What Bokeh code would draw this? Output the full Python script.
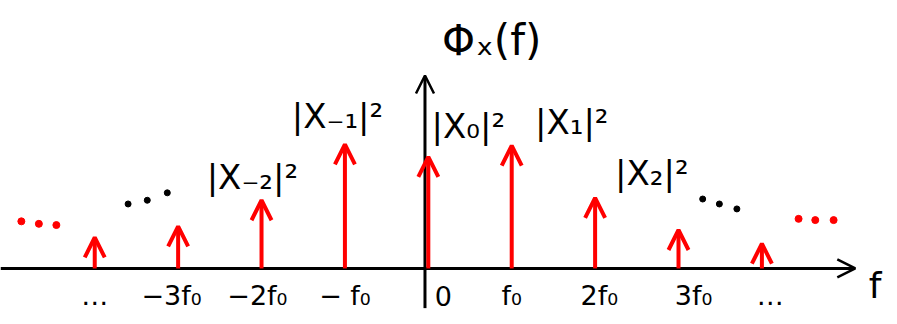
from bokeh.plotting import figure
from bokeh.models import Range1d, Arrow, OpenHead, ColumnDataSource
from bokeh.core.properties import value
from bokeh.embed import file_html
from bokeh.resources import INLINE

# ---- data (harmonic index k, in units of f0) ----
harmonics = [-4, -3, -2, -1, 0, 1, 2, 3, 4]
power = [0.25, 0.34, 0.55, 1.0, 0.90, 0.99, 0.57, 0.31, 0.20]   # |X_k|^2 (relative)

tick_labels = ["…", "−3f₀", "−2f₀", "− f₀", "0", "f₀", "2f₀", "3f₀", "…"]
tick_dx = [0.0, -0.08, -0.05, 0.0, 0.18, 0.0, 0.05, 0.18, 0.1]

coef_labels = ["|X₋₂|²", "|X₋₁|²", "|X₀|²", "|X₁|²", "|X₂|²"]
coef_x = [-2.11, -1.09, 0.48, 1.72, 2.68]
coef_y = [0.74, 1.23, 1.15, 1.18, 0.77]

black_dots_x = [-3.60, -3.37, -3.13, 3.29, 3.49, 3.70]
black_dots_y = [0.52, 0.55, 0.61, 0.56, 0.52, 0.48]
red_dots_x = [-4.88, -4.67, -4.46, 4.44, 4.64, 4.86]
red_dots_y = [0.38, 0.36, 0.35, 0.40, 0.39, 0.39]

# axis extents (data units)
x_axis_end = 5.12
y_axis_x = -0.04
y_axis_bottom = -0.32
y_axis_top = 1.556

XR = (-5.130, 5.626)
YR = (-0.452, 2.161)

p = figure(width=897, height=324, x_range=Range1d(*XR), y_range=Range1d(*YR),
           output_backend="svg", toolbar_location=None,
           x_axis_type=None, y_axis_type=None, min_border=0)
p.outline_line_color = None
p.background_fill_color = "white"

# axes
ax_src = ColumnDataSource(dict(x0=[XR[0], y_axis_x], y0=[0, y_axis_bottom],
                               x1=[x_axis_end, y_axis_x], y1=[0, y_axis_top]))
p.add_layout(Arrow(end=OpenHead(size=18, line_color="black", line_width=2.5),
                   x_start="x0", y_start="y0", x_end="x1", y_end="y1",
                   source=ax_src, line_color="black", line_width=3))

# impulses
imp_src = ColumnDataSource(dict(x0=harmonics, y0=[0] * len(harmonics),
                                x1=harmonics, y1=power))
p.add_layout(Arrow(end=OpenHead(size=20, line_color="red", line_width=4),
                   x_start="x0", y_start="y0", x_end="x1", y_end="y1",
                   source=imp_src, line_color="red", line_width=4))

# ellipsis dots
p.scatter(black_dots_x, black_dots_y, size=6, color="black")
p.scatter(red_dots_x, red_dots_y, size=7, color="red")

font = value("DejaVu Sans")

# tick labels
tick_x = [k + d for k, d in zip(harmonics, tick_dx)]
p.text(x=tick_x, y=[-0.22] * len(tick_x), text=tick_labels, text_font=font,
       text_font_size="27px", text_align="center", text_baseline="middle",
       text_color="black")

# coefficient labels
p.text(x=coef_x, y=coef_y, text=coef_labels, text_font=font,
       text_font_size="34px", text_align="center", text_baseline="middle",
       text_color="black")

# axis titles
p.text(x=[0.76], y=[1.84], text=["Φₓ(f)"], text_font=font, text_font_size="42px",
       text_align="center", text_baseline="middle", text_color="black")
p.text(x=[5.28], y=[-0.14], text=["f"], text_font=font, text_font_size="36px",
       text_align="left", text_baseline="middle", text_color="black")

open("out.html", "w").write(file_html(p, INLINE))
